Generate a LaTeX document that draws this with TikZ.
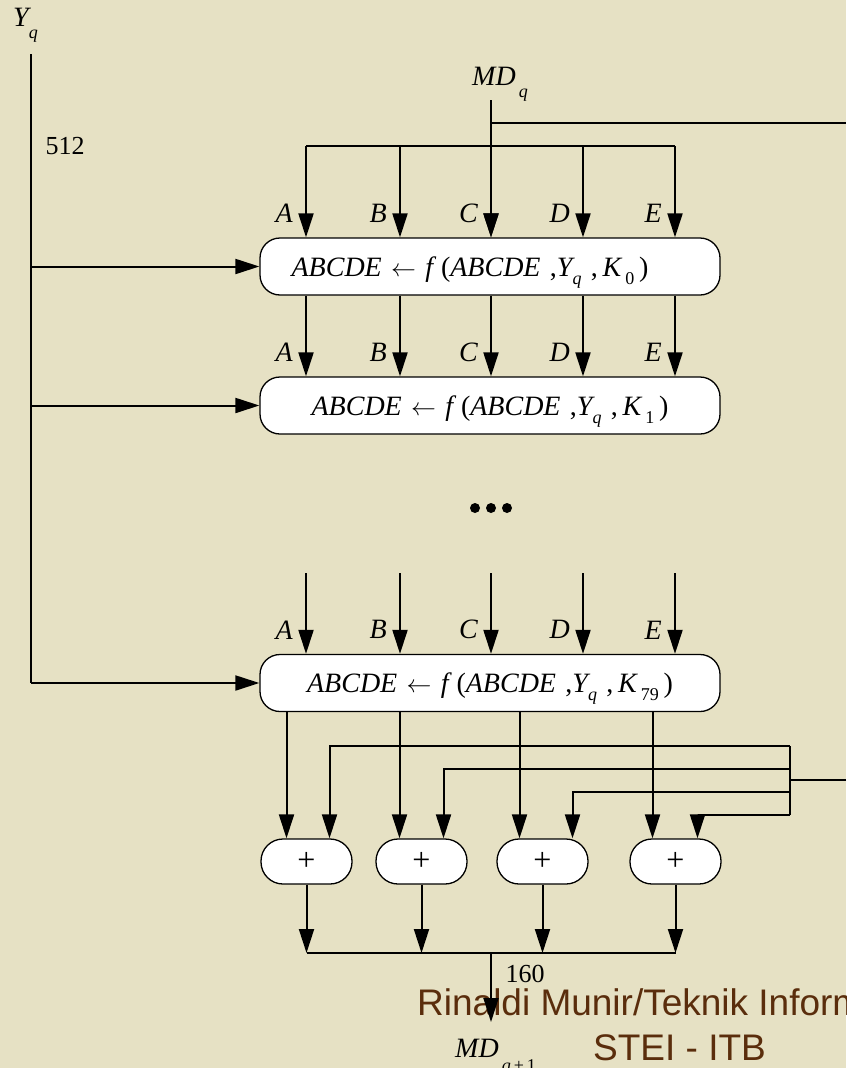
\documentclass[tikz,border=0pt]{standalone}
\usepackage{fontspec}
\setmainfont{Liberation Serif}
\newfontfamily\wmfont{Liberation Sans}
\usetikzlibrary{positioning, arrows.meta, calc}
\definecolor{paper}{HTML}{E6E1C4}
\definecolor{wmark}{HTML}{5A2D0C}
\tikzset{
  rnd/.style={draw=black, fill=white, rounded corners=20pt, minimum width=460pt,
              minimum height=57pt, line width=1.3pt, font=\fontsize{28}{30}\selectfont,
              inner sep=0pt, text height=19pt, text depth=0pt},
  add/.style={draw=black, fill=white, rounded corners=22pt, minimum width=91pt,
              minimum height=45pt, line width=1.3pt, font=\fontsize{32}{34}\selectfont, inner sep=0pt},
  arr/.style={-{Triangle[length=24pt, width=15pt]}, line width=2pt},
  ln/.style={line width=2pt},
  lbl/.style={font=\fontsize{28}{30}\selectfont\itshape, inner sep=0pt},
  num/.style={font=\fontsize{26}{28}\selectfont, inner sep=0pt},
  wm/.style={font=\wmfont\fontsize{37}{40}\selectfont, text=wmark, inner sep=0pt},
}
\newcommand{\vsub}[3][8pt]{#2\raisebox{-#1}{\fontsize{18}{18}\selectfont #3}}
\newcommand{\rndtxt}[1]{\textit{ABCDE}\,\,$\leftarrow$\,\,\textit{f}\,(\textit{ABCDE}\,\,,\textit{\vsub{Y}{q}}\,\,,\,\textit{K}\raisebox{-8pt}{\fontsize{18}{18}\selectfont\,#1}\,)}

\begin{document}
\begin{tikzpicture}[x=1pt, y=-1pt]
  \clip (0,0) rectangle (846,1068);
  \fill[paper] (0,0) rectangle (846,1068);
  \node[wm, anchor=base west] (wm1) at (417,1015) {Rinaldi Munir/Teknik Informatika};
  \node[wm, anchor=base west] (wm2) at (593,1060) {STEI - ITB};

  \node[rnd] (r0) at (490,266.5) {\rndtxt{0}\hspace*{40pt}};
  \node[rnd] (r1) at (490,405.5) {\rndtxt{1}};
  \node[rnd] (r79) at (490,683) {\rndtxt{79}};

  \node[lbl, anchor=base west] (yq) at (13,27) {\vsub[12pt]{Y}{q}};
  \coordinate (ytop) at (31,54);
  \draw[ln] (ytop) -- (ytop |- r79);
  \foreach \r in {r0,r1,r79}
    \draw[arr] (ytop |- \r) -- (\r.west);
  \node[num] (n512) at (65,146) {512};

  \node[lbl, anchor=base west] (mdq) at (472,85) {\vsub[12pt]{MD}{\,q}};
  \coordinate (mdtop) at (491,100);
  \coordinate (fbout) at (846,123);
  \draw[ln] (mdtop |- fbout) -- (fbout);
  \foreach \x/\l in {306/A,400/B,491/C,583/D,675/E}
    \coordinate (c\l) at (\x,146);
  \coordinate (top79) at (0,573);
  \draw[ln] (cA) -- (cE);
  \draw[arr] (mdtop) -- (cC |- r0.north);
  \foreach \l in {A,B,C,D,E} {
    \draw[arr] (c\l) -- (c\l |- r0.north);
    \draw[arr] (c\l |- r0.south) -- (c\l |- r1.north);
    \draw[arr] (c\l |- top79) -- (c\l |- r79.north);
    \foreach \r in {r0,r1,r79}
      \node[lbl, anchor=east] (l\r\l) at ($(c\l |- \r.north)+(-13,-24)$) {\l};
  }

  \foreach \x in {475,491,507}
    \fill (\x,508) circle (5pt);

  \foreach \i/\x in {1/306.5,2/421.5,3/542.5,4/675.5}
    \node[add] (p\i) at (\x,861.5) {+};
  \foreach \i/\dx in {1/-20,2/-22,3/-23,4/-23} {
    \coordinate (o\i) at ($(p\i.north)+(\dx,0)$);
    \draw[arr] (o\i |- r79.south) -- (o\i);
  }
  \coordinate (fbin) at (846,780);
  \coordinate (fbx) at (790,780);
  \draw[ln] (fbin) -- (fbx);
  \foreach \i/\y/\dx in {1/746/23,2/769/22,3/792/30,4/815/22} {
    \coordinate (k\i) at (790,\y);
    \coordinate (q\i) at ($(p\i.north)+(\dx,0)$);
    \draw[arr] (k\i) -| (q\i);
  }
  \draw[ln] (k1) -- (k4);

  \coordinate (bus2) at (491,953);
  \foreach \i in {1,...,4}
    \draw[arr] (p\i.south) -- (p\i.south |- bus2);
  \draw[ln] (p1.south |- bus2) -- (p4.south |- bus2);
  \coordinate (mdend) at (491,1022);
  \draw[arr] (bus2) -- (mdend);
  \node[num] (n160) at (525,974) {160};
  \node[lbl, anchor=base west] (mdq1) at (455,1057) {\vsub[14pt]{MD}{\,q\,{\upshape +\,1}}};
\end{tikzpicture}
\end{document}
